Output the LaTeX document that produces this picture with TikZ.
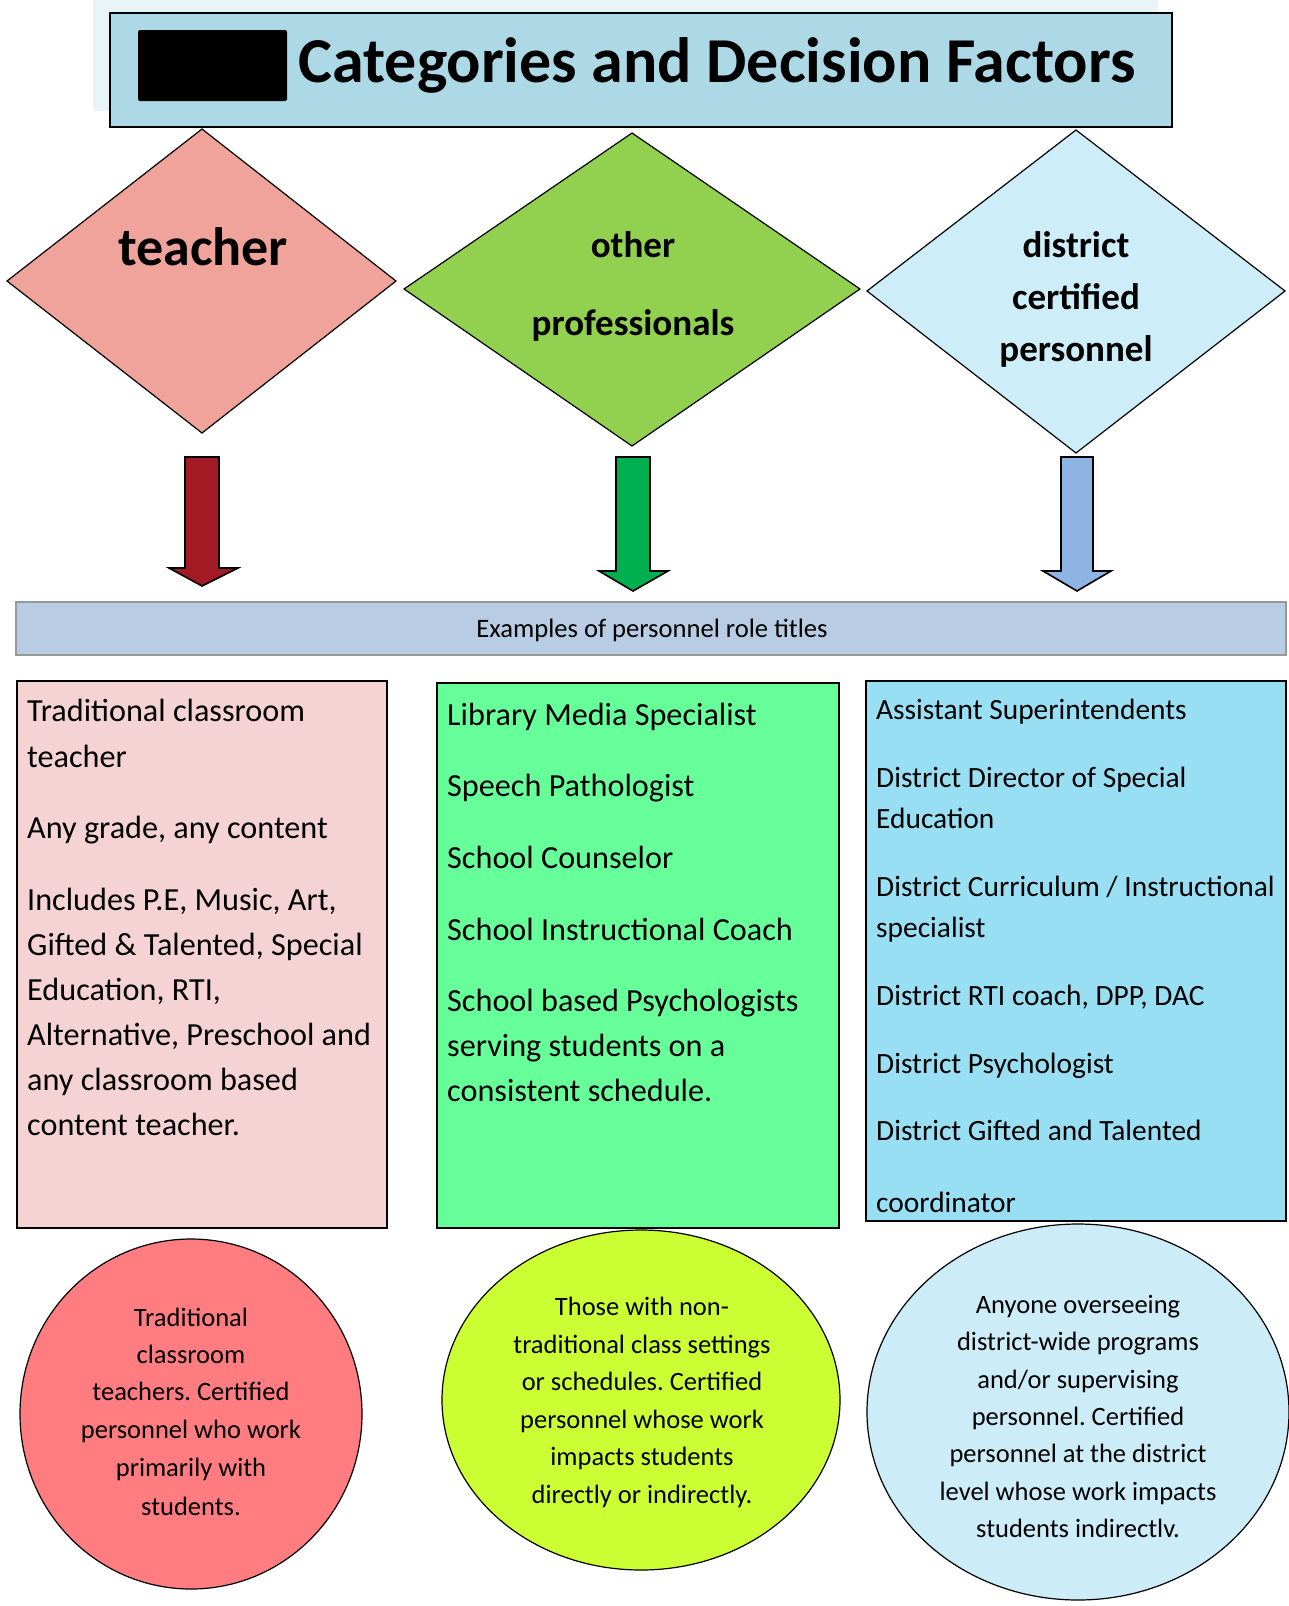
\documentclass[tikz,border=0pt]{standalone}
\usepackage{fontspec}
\setmainfont{Carlito}
\frenchspacing
\definecolor{bgl}{HTML}{E8F4F7}
\definecolor{titleblue}{HTML}{ADD8E6}
\definecolor{dteach}{HTML}{EFA39A}
\definecolor{dother}{HTML}{92D050}
\definecolor{ddist}{HTML}{CDEEF8}
\definecolor{ared}{HTML}{A21A24}
\definecolor{agreen}{HTML}{00B050}
\definecolor{ablue}{HTML}{8DB4E2}
\definecolor{bar}{HTML}{B8CCE4}
\definecolor{bpink}{HTML}{F5D3D4}
\definecolor{bgreen}{HTML}{66FF99}
\definecolor{bblue}{HTML}{99DFF4}
\definecolor{cred}{HTML}{FF7C80}
\definecolor{cyel}{HTML}{CCFF33}
\definecolor{cblue}{HTML}{CCECF7}
\tikzset{
  outl/.style={draw=black, line width=1.6pt},
  dtext/.style={font=\fontsize{37}{40}\selectfont\bfseries, inner sep=0pt, anchor=mid},
  btext/.style={font=\fontsize{32.2}{36}\selectfont, inner sep=0pt, anchor=mid west},
  bbtext/.style={font=\fontsize{29.4}{33}\selectfont, inner sep=0pt, anchor=mid west},
  ctext/.style={font=\fontsize{26.5}{30}\selectfont, inner sep=0pt, anchor=mid},
}
\begin{document}
\begin{tikzpicture}[x=1pt,y=-1pt]
\useasboundingbox (0,0) rectangle (1288,1606);
% title
\fill[bgl] (93,0) rectangle (1158,111);
\draw[outl, fill=titleblue] (110,13) rectangle (1172,127);
\fill[black, rounded corners=2pt] (138,30) rectangle (287,101);
\node[font=\fontsize{64}{70}\selectfont\bfseries, inner sep=0pt, anchor=mid] (title) at (717,80) {Categories and Decision Factors};
% diamonds
\draw[outl, line width=1.2pt, fill=dteach] (7,281) -- (202,129) -- (396,281) -- (202,433) -- cycle;
\node[dtext, font=\fontsize{54}{56}\selectfont\bfseries] (teacher) at (203,263) {teacher};
\draw[outl, line width=1.2pt, fill=dother] (404,289) -- (632,133) -- (860,289) -- (632,446) -- cycle;
\node[dtext] (oth1) at (633,255) {other};
\node[dtext] (oth2) at (633,333) {professionals};
\draw[outl, line width=1.2pt, fill=ddist] (867,291) -- (1076,130) -- (1285,291) -- (1076,453) -- cycle;
\node[dtext] (dis1) at (1076,255) {district};
\node[dtext] (dis2) at (1076,307) {certified};
\node[dtext] (dis3) at (1076,359) {personnel};
% block arrows
\draw[outl, fill=ared] (185,457) -- (219,457) -- (219,568) -- (238,568) -- (202,586) -- (169,568) -- (185,568) -- cycle;
\draw[outl, fill=agreen] (616,457) -- (650,457) -- (650,571) -- (668,571) -- (633,591) -- (599,571) -- (616,571) -- cycle;
\draw[outl, fill=ablue] (1061,457) -- (1093,457) -- (1093,571) -- (1111,571) -- (1077,591) -- (1043,571) -- (1061,571) -- cycle;
% examples bar
\draw[draw=gray!80, line width=1.2pt, fill=bar] (16,602) rectangle (1286,655);
\node[font=\fontsize{26.6}{30}\selectfont, inner sep=0pt, anchor=mid] (ex) at (652,635) {Examples of personnel role titles};
% boxes
\draw[outl, fill=bpink] (17,681) rectangle (387,1228);
\draw[outl, fill=bgreen] (437,683) rectangle (839,1228);
\draw[outl, fill=bblue] (866,681) rectangle (1286,1221);
% pink text
\node[btext] (p1) at (27,719) {Traditional classroom};
\node[btext] (p2) at (27,765) {teacher};
\node[btext] (p3) at (27,836) {Any grade, any content};
\node[btext] (p4) at (27,908) {Includes P.E, Music, Art,};
\node[btext] (p5) at (27,953) {Gifted \& Talented, Special};
\node[btext] (p6) at (27,998) {Education, RTI,};
\node[btext] (p7) at (27,1043) {Alternative, Preschool and};
\node[btext] (p8) at (27,1088) {any classroom based};
\node[btext] (p9) at (27,1133) {content teacher.};
% green text
\node[btext] (g1) at (447,723) {Library Media Specialist};
\node[btext] (g2) at (447,794) {Speech Pathologist};
\node[btext] (g3) at (447,866) {School Counselor};
\node[btext] (g4) at (447,938) {School Instructional Coach};
\node[btext] (g5) at (447,1009) {School based Psychologists};
\node[btext] (g6) at (447,1054) {serving students on a};
\node[btext] (g7) at (447,1099) {consistent schedule.};
% blue text
\node[bbtext] (b1) at (876,717) {Assistant Superintendents};
\node[bbtext] (b2) at (876,785) {District Director of Special};
\node[bbtext] (b3) at (876,826) {Education};
\node[bbtext] (b4) at (876,894) {District Curriculum / Instructional};
\node[bbtext] (b5) at (876,935) {specialist};
\node[bbtext] (b6) at (876,1003) {District RTI coach, DPP, DAC};
\node[bbtext] (b7) at (876,1071) {District Psychologist};
\node[bbtext] (b8) at (876,1138) {District Gifted and Talented};
\node[bbtext] (b9) at (876,1210) {coordinator};
% circles
\draw[outl, line width=1.2pt, fill=cred] (191,1414) ellipse [x radius=171, y radius=175];
\draw[outl, line width=1.2pt, fill=cyel] (641,1400) ellipse [x radius=199, y radius=170];
\draw[outl, line width=1.2pt, fill=cblue] (1078,1412) ellipse [x radius=211, y radius=188];
\node[ctext] (r1) at (191,1324) {Traditional};
\node[ctext] (r2) at (191,1361) {classroom};
\node[ctext] (r3) at (191,1398) {teachers. Certified};
\node[ctext] (r4) at (191,1436) {personnel who work};
\node[ctext] (r5) at (191,1474) {primarily with};
\node[ctext] (r6) at (191,1513) {students.};
\node[ctext] (y1) at (642,1313) {Those with non-};
\node[ctext] (y2) at (642,1351) {traditional class settings};
\node[ctext] (y3) at (642,1388) {or schedules. Certified};
\node[ctext] (y4) at (642,1426) {personnel whose work};
\node[ctext] (y5) at (642,1463) {impacts students};
\node[ctext] (y6) at (642,1501) {directly or indirectly.};
\node[ctext] (c1) at (1078,1311) {Anyone overseeing};
\node[ctext] (c2) at (1078,1348) {district-wide programs};
\node[ctext] (c3) at (1078,1386) {and/or supervising};
\node[ctext] (c4) at (1078,1423) {personnel. Certified};
\node[ctext] (c5) at (1078,1460) {personnel at the district};
\node[ctext] (c6) at (1078,1498) {level whose work impacts};
\node[ctext] (c7) at (1078,1535) {students indirectlv.};
\end{tikzpicture}
\end{document}
